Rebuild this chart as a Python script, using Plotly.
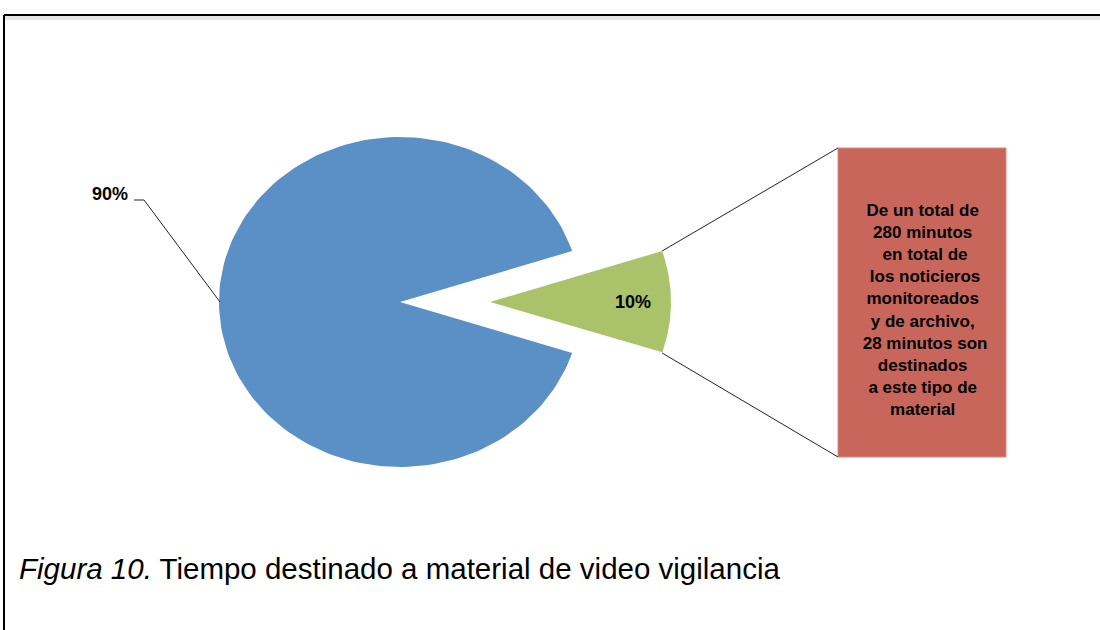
"""Pie-of-bar chart: tiempo destinado a material de video vigilancia."""
import numpy as np
import plotly.graph_objects as go

# data
labels = ["Otro material", "Video vigilancia"]
values = [90, 10]
colors = ["#5B90C6", "#AAC36A"]
bar_lines = [
    "De un total de",
    "280 minutos",
    " en total de",
    " los noticieros",
    "monitoreados",
    "y de archivo,",
    " 28 minutos son",
    "destinados",
    "a este tipo de",
    "material",
]
caption_italic = "Figura 10."
caption_text = "Tiempo destinado a material de video vigilancia"

# geometry (pixel-like layout units, y grows downward)
W, H = 1100, 630
cx, cy = 400, 302
rx, ry = 181, 165
pull = 90
bar_x0, bar_x1, bar_y0, bar_y1 = 838, 1006, 148, 457
FONT = "Liberation Sans, Arial, sans-serif"

fig = go.Figure()

total = sum(values)
small_span = 360.0 * values[1] / total
# small slice centred on the right, the big slice takes the rest
spans = {
    1: (-small_span / 2, small_span / 2),
    0: (small_span / 2, 360 - small_span / 2),
}


def wedge(a0, a1, ox):
    t = np.radians(np.linspace(a0, a1, 160))
    xs = np.concatenate([[cx + ox], cx + ox + rx * np.cos(t), [cx + ox]])
    ys = np.concatenate([[cy], cy - ry * np.sin(t), [cy]])
    return xs, ys


for i in (0, 1):
    a0, a1 = spans[i]
    ox = pull if i == 1 else 0
    xs, ys = wedge(a0, a1, ox)
    fig.add_trace(go.Scatter(
        x=xs, y=ys, mode="lines", fill="toself",
        fillcolor=colors[i], line=dict(width=0, color=colors[i]),
        name=labels[i], hoverinfo="name", showlegend=False,
    ))

# connector lines from the pulled slice to the bar
a0, a1 = spans[1]
top_pt = (cx + pull + rx * np.cos(np.radians(a1)), cy - ry * np.sin(np.radians(a1)))
bot_pt = (cx + pull + rx * np.cos(np.radians(a0)), cy - ry * np.sin(np.radians(a0)))
fig.add_trace(go.Scatter(
    x=[top_pt[0], bar_x0, None, bot_pt[0], bar_x0],
    y=[top_pt[1], bar_y0, None, bot_pt[1], bar_y1],
    mode="lines", line=dict(color="#222222", width=1),
    hoverinfo="skip", showlegend=False,
))

# bar holding the breakdown text
fig.add_shape(
    type="rect", x0=bar_x0, x1=bar_x1, y0=bar_y0, y1=bar_y1,
    fillcolor="#C9665C", line=dict(color="#D88880", width=1), layer="below",
)
fig.add_annotation(
    x=(bar_x0 + bar_x1) / 2, y=(bar_y0 + bar_y1) / 2 + 7,
    text="<b>" + "<br>".join(bar_lines) + "</b>",
    showarrow=False, align="center",
    font=dict(family=FONT, size=17, color="black"),
)

# percentage labels
fig.add_annotation(
    x=cx + pull + rx * 0.79, y=cy,
    text=f"<b>{values[1]}%</b>", showarrow=False,
    font=dict(family=FONT, size=18, color="black"),
)
fig.add_annotation(
    x=130, y=194, xanchor="right",
    text=f"<b>{values[0]}%</b>", showarrow=False,
    font=dict(family=FONT, size=18, color="black"),
)
fig.add_trace(go.Scatter(
    x=[134, 144, cx - rx + 1], y=[200, 200, cy],
    mode="lines", line=dict(color="#222222", width=1),
    hoverinfo="skip", showlegend=False,
))

# caption
fig.add_annotation(
    x=17, y=568, xanchor="left",
    text=f"<i>{caption_italic}</i> {caption_text}",
    showarrow=False,
    font=dict(family=FONT, size=29.5, color="black"),
)

# outer frame (runs off the right and bottom edges)
fig.add_shape(
    type="line", x0=4, x1=W, y0=18, y1=18,
    line=dict(color="#E6E6E6", width=4),
)
fig.add_shape(
    type="line", x0=4, x1=W, y0=15, y1=15,
    line=dict(color="black", width=2),
)
fig.add_shape(
    type="line", x0=4, x1=4, y0=15, y1=H,
    line=dict(color="black", width=2),
)

fig.update_xaxes(range=[0, W], visible=False, fixedrange=True)
fig.update_yaxes(range=[H, 0], visible=False, fixedrange=True)
fig.update_layout(
    width=W, height=H, autosize=False,
    margin=dict(l=0, r=0, t=0, b=0),
    paper_bgcolor="white", plot_bgcolor="white",
)

fig.write_html(
    "out.html",
    config={"displayModeBar": False},
    post_script="document.body.style.margin='0';document.body.style.overflow='hidden';",
)
